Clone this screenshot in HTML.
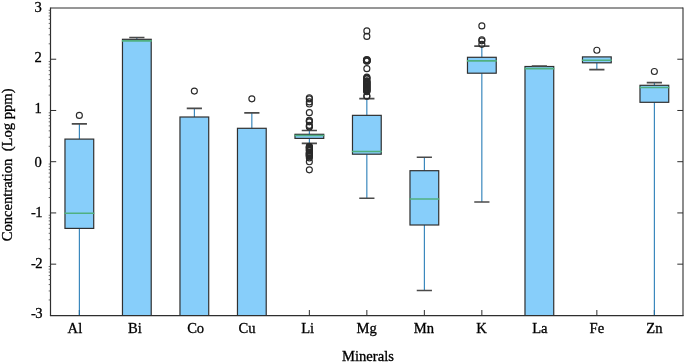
<!DOCTYPE html>
<html><head><meta charset="utf-8"><title>Boxplot</title>
<style>
html,body{margin:0;padding:0;background:#fff;}
body{width:685px;height:363px;overflow:hidden;}
svg{display:block;will-change:transform;}
svg text{font-family:"Liberation Serif",serif;fill:#000;stroke:#000;stroke-width:0.3px;}
</style></head><body>
<svg width="685" height="363" viewBox="0 0 685 363">
<rect width="685" height="363" fill="#fff"/>
<defs><clipPath id="c"><rect x="50.5" y="8.0" width="632.5" height="307.4"/></clipPath></defs>
<line x1="79.35" x2="79.35" y1="315.4" y2="310.0" stroke="#2e2e2e" stroke-width="1"/>
<line x1="136.85" x2="136.85" y1="315.4" y2="310.0" stroke="#2e2e2e" stroke-width="1"/>
<line x1="194.35" x2="194.35" y1="315.4" y2="310.0" stroke="#2e2e2e" stroke-width="1"/>
<line x1="251.85" x2="251.85" y1="315.4" y2="310.0" stroke="#2e2e2e" stroke-width="1"/>
<line x1="309.35" x2="309.35" y1="315.4" y2="310.0" stroke="#2e2e2e" stroke-width="1"/>
<line x1="366.85" x2="366.85" y1="315.4" y2="310.0" stroke="#2e2e2e" stroke-width="1"/>
<line x1="424.35" x2="424.35" y1="315.4" y2="310.0" stroke="#2e2e2e" stroke-width="1"/>
<line x1="481.85" x2="481.85" y1="315.4" y2="310.0" stroke="#2e2e2e" stroke-width="1"/>
<line x1="539.35" x2="539.35" y1="315.4" y2="310.0" stroke="#2e2e2e" stroke-width="1"/>
<line x1="596.85" x2="596.85" y1="315.4" y2="310.0" stroke="#2e2e2e" stroke-width="1"/>
<line x1="654.35" x2="654.35" y1="315.4" y2="310.0" stroke="#2e2e2e" stroke-width="1"/>
<g clip-path="url(#c)">
<line x1="79.35" x2="79.35" y1="123.85" y2="139.1" stroke="#1f77b4" stroke-width="1.05"/>
<line x1="79.35" x2="79.35" y1="228.4" y2="330" stroke="#1f77b4" stroke-width="1.05"/>
<rect x="64.97" y="139.1" width="28.75" height="89.30" fill="#87CEFA" stroke="#303030" stroke-width="1.2"/>
<line x1="64.38" x2="94.32" y1="213.2" y2="213.2" stroke="#50b080" stroke-width="1.6"/>
<line x1="71.75" x2="86.95" y1="123.85" y2="123.85" stroke="#4a4a4a" stroke-width="1.6"/>
<circle cx="79.35" cy="115.4" r="3.0" fill="none" stroke="#2a2a2a" stroke-width="1.15"/>
<line x1="136.85" x2="136.85" y1="37.5" y2="39.3" stroke="#1f77b4" stroke-width="1.05"/>
<rect x="122.47" y="39.3" width="28.75" height="290.70" fill="#87CEFA" stroke="#303030" stroke-width="1.2"/>
<line x1="121.88" x2="151.82" y1="40.9" y2="40.9" stroke="#50b080" stroke-width="1.6"/>
<line x1="129.25" x2="144.45" y1="37.5" y2="37.5" stroke="#4a4a4a" stroke-width="1.6"/>
<line x1="194.35" x2="194.35" y1="108.4" y2="117.0" stroke="#1f77b4" stroke-width="1.05"/>
<rect x="179.97" y="117.0" width="28.75" height="213.00" fill="#87CEFA" stroke="#303030" stroke-width="1.2"/>
<line x1="186.75" x2="201.95" y1="108.4" y2="108.4" stroke="#4a4a4a" stroke-width="1.6"/>
<circle cx="194.35" cy="91.1" r="3.0" fill="none" stroke="#2a2a2a" stroke-width="1.15"/>
<line x1="251.85" x2="251.85" y1="112.9" y2="128.3" stroke="#1f77b4" stroke-width="1.05"/>
<rect x="237.47" y="128.3" width="28.75" height="201.70" fill="#87CEFA" stroke="#303030" stroke-width="1.2"/>
<line x1="244.25" x2="259.45" y1="112.9" y2="112.9" stroke="#4a4a4a" stroke-width="1.6"/>
<circle cx="251.85" cy="98.8" r="3.0" fill="none" stroke="#2a2a2a" stroke-width="1.15"/>
<line x1="309.35" x2="309.35" y1="130.5" y2="134.3" stroke="#1f77b4" stroke-width="1.05"/>
<line x1="309.35" x2="309.35" y1="138.4" y2="143.4" stroke="#1f77b4" stroke-width="1.05"/>
<rect x="294.98" y="134.3" width="28.75" height="4.10" fill="#87CEFA" stroke="#303030" stroke-width="1.2"/>
<line x1="294.38" x2="324.33" y1="135.5" y2="135.5" stroke="#50b080" stroke-width="1.6"/>
<line x1="301.75" x2="316.95" y1="130.5" y2="130.5" stroke="#4a4a4a" stroke-width="1.6"/>
<line x1="301.75" x2="316.95" y1="143.4" y2="143.4" stroke="#4a4a4a" stroke-width="1.6"/>
<circle cx="309.35" cy="97.7" r="3.0" fill="none" stroke="#2a2a2a" stroke-width="1.15"/>
<circle cx="309.35" cy="98.9" r="3.0" fill="none" stroke="#2a2a2a" stroke-width="1.15"/>
<circle cx="309.35" cy="101.9" r="3.0" fill="none" stroke="#2a2a2a" stroke-width="1.15"/>
<circle cx="309.35" cy="104.0" r="3.0" fill="none" stroke="#2a2a2a" stroke-width="1.15"/>
<circle cx="309.35" cy="112.66" r="3.0" fill="none" stroke="#2a2a2a" stroke-width="1.15"/>
<circle cx="309.35" cy="120.2" r="3.0" fill="none" stroke="#2a2a2a" stroke-width="1.15"/>
<circle cx="309.35" cy="121.0" r="3.0" fill="none" stroke="#2a2a2a" stroke-width="1.15"/>
<circle cx="309.35" cy="121.8" r="3.0" fill="none" stroke="#2a2a2a" stroke-width="1.15"/>
<circle cx="309.35" cy="125.4" r="3.0" fill="none" stroke="#2a2a2a" stroke-width="1.15"/>
<circle cx="309.35" cy="126.2" r="3.0" fill="none" stroke="#2a2a2a" stroke-width="1.15"/>
<circle cx="309.35" cy="127.0" r="3.0" fill="none" stroke="#2a2a2a" stroke-width="1.15"/>
<circle cx="309.35" cy="146.4" r="3.0" fill="none" stroke="#2a2a2a" stroke-width="1.15"/>
<circle cx="309.35" cy="146.9" r="3.0" fill="none" stroke="#2a2a2a" stroke-width="1.15"/>
<circle cx="309.35" cy="147.4" r="3.0" fill="none" stroke="#2a2a2a" stroke-width="1.15"/>
<circle cx="309.35" cy="147.9" r="3.0" fill="none" stroke="#2a2a2a" stroke-width="1.15"/>
<circle cx="309.35" cy="148.4" r="3.0" fill="none" stroke="#2a2a2a" stroke-width="1.15"/>
<circle cx="309.35" cy="149.4" r="3.0" fill="none" stroke="#2a2a2a" stroke-width="1.15"/>
<circle cx="309.35" cy="150.2" r="3.0" fill="none" stroke="#2a2a2a" stroke-width="1.15"/>
<circle cx="309.35" cy="150.6" r="3.0" fill="none" stroke="#2a2a2a" stroke-width="1.15"/>
<circle cx="309.35" cy="152.4" r="3.0" fill="none" stroke="#2a2a2a" stroke-width="1.15"/>
<circle cx="309.35" cy="152.9" r="3.0" fill="none" stroke="#2a2a2a" stroke-width="1.15"/>
<circle cx="309.35" cy="153.4" r="3.0" fill="none" stroke="#2a2a2a" stroke-width="1.15"/>
<circle cx="309.35" cy="153.9" r="3.0" fill="none" stroke="#2a2a2a" stroke-width="1.15"/>
<circle cx="309.35" cy="154.4" r="3.0" fill="none" stroke="#2a2a2a" stroke-width="1.15"/>
<circle cx="309.35" cy="154.9" r="3.0" fill="none" stroke="#2a2a2a" stroke-width="1.15"/>
<circle cx="309.35" cy="155.4" r="3.0" fill="none" stroke="#2a2a2a" stroke-width="1.15"/>
<circle cx="309.35" cy="155.9" r="3.0" fill="none" stroke="#2a2a2a" stroke-width="1.15"/>
<circle cx="309.35" cy="156.4" r="3.0" fill="none" stroke="#2a2a2a" stroke-width="1.15"/>
<circle cx="309.35" cy="157.9" r="3.0" fill="none" stroke="#2a2a2a" stroke-width="1.15"/>
<circle cx="309.35" cy="161.7" r="3.0" fill="none" stroke="#2a2a2a" stroke-width="1.15"/>
<circle cx="309.35" cy="169.8" r="3.0" fill="none" stroke="#2a2a2a" stroke-width="1.15"/>
<line x1="366.85" x2="366.85" y1="98.6" y2="115.35" stroke="#1f77b4" stroke-width="1.05"/>
<line x1="366.85" x2="366.85" y1="154.2" y2="198.3" stroke="#1f77b4" stroke-width="1.05"/>
<rect x="352.48" y="115.35" width="28.75" height="38.85" fill="#87CEFA" stroke="#303030" stroke-width="1.2"/>
<line x1="351.88" x2="381.83" y1="151.5" y2="151.5" stroke="#50b080" stroke-width="1.6"/>
<line x1="359.25" x2="374.45" y1="98.6" y2="98.6" stroke="#4a4a4a" stroke-width="1.6"/>
<line x1="359.25" x2="374.45" y1="198.3" y2="198.3" stroke="#4a4a4a" stroke-width="1.6"/>
<circle cx="366.85" cy="30.9" r="3.0" fill="none" stroke="#2a2a2a" stroke-width="1.15"/>
<circle cx="366.85" cy="36.4" r="3.0" fill="none" stroke="#2a2a2a" stroke-width="1.15"/>
<circle cx="366.85" cy="59.95" r="3.0" fill="none" stroke="#2a2a2a" stroke-width="1.9"/>
<circle cx="366.85" cy="60.4" r="3.0" fill="none" stroke="#2a2a2a" stroke-width="1.9"/>
<circle cx="366.85" cy="60.85" r="3.0" fill="none" stroke="#2a2a2a" stroke-width="1.9"/>
<circle cx="366.85" cy="68.67" r="3.0" fill="none" stroke="#2a2a2a" stroke-width="1.15"/>
<circle cx="366.85" cy="77.1" r="3.0" fill="none" stroke="#2a2a2a" stroke-width="1.15"/>
<circle cx="366.85" cy="77.7" r="3.0" fill="none" stroke="#2a2a2a" stroke-width="1.15"/>
<circle cx="366.85" cy="78.3" r="3.0" fill="none" stroke="#2a2a2a" stroke-width="1.15"/>
<circle cx="366.85" cy="78.9" r="3.0" fill="none" stroke="#2a2a2a" stroke-width="1.15"/>
<circle cx="366.85" cy="80.7" r="3.0" fill="none" stroke="#2a2a2a" stroke-width="1.15"/>
<circle cx="366.85" cy="81.2" r="3.0" fill="none" stroke="#2a2a2a" stroke-width="1.15"/>
<circle cx="366.85" cy="81.7" r="3.0" fill="none" stroke="#2a2a2a" stroke-width="1.15"/>
<circle cx="366.85" cy="82.2" r="3.0" fill="none" stroke="#2a2a2a" stroke-width="1.15"/>
<circle cx="366.85" cy="82.7" r="3.0" fill="none" stroke="#2a2a2a" stroke-width="1.15"/>
<circle cx="366.85" cy="83.2" r="3.0" fill="none" stroke="#2a2a2a" stroke-width="1.15"/>
<circle cx="366.85" cy="83.7" r="3.0" fill="none" stroke="#2a2a2a" stroke-width="1.15"/>
<circle cx="366.85" cy="84.2" r="3.0" fill="none" stroke="#2a2a2a" stroke-width="1.15"/>
<circle cx="366.85" cy="84.7" r="3.0" fill="none" stroke="#2a2a2a" stroke-width="1.15"/>
<circle cx="366.85" cy="85.2" r="3.0" fill="none" stroke="#2a2a2a" stroke-width="1.15"/>
<circle cx="366.85" cy="85.7" r="3.0" fill="none" stroke="#2a2a2a" stroke-width="1.15"/>
<circle cx="366.85" cy="86.2" r="3.0" fill="none" stroke="#2a2a2a" stroke-width="1.15"/>
<circle cx="366.85" cy="86.7" r="3.0" fill="none" stroke="#2a2a2a" stroke-width="1.15"/>
<circle cx="366.85" cy="87.2" r="3.0" fill="none" stroke="#2a2a2a" stroke-width="1.15"/>
<circle cx="366.85" cy="87.7" r="3.0" fill="none" stroke="#2a2a2a" stroke-width="1.15"/>
<circle cx="366.85" cy="88.2" r="3.0" fill="none" stroke="#2a2a2a" stroke-width="1.15"/>
<circle cx="366.85" cy="88.7" r="3.0" fill="none" stroke="#2a2a2a" stroke-width="1.15"/>
<circle cx="366.85" cy="89.2" r="3.0" fill="none" stroke="#2a2a2a" stroke-width="1.15"/>
<circle cx="366.85" cy="89.7" r="3.0" fill="none" stroke="#2a2a2a" stroke-width="1.15"/>
<circle cx="366.85" cy="90.2" r="3.0" fill="none" stroke="#2a2a2a" stroke-width="1.15"/>
<circle cx="366.85" cy="90.7" r="3.0" fill="none" stroke="#2a2a2a" stroke-width="1.15"/>
<circle cx="366.85" cy="91.2" r="3.0" fill="none" stroke="#2a2a2a" stroke-width="1.15"/>
<circle cx="366.85" cy="91.7" r="3.0" fill="none" stroke="#2a2a2a" stroke-width="1.15"/>
<circle cx="366.85" cy="96.0" r="3.0" fill="none" stroke="#2a2a2a" stroke-width="1.15"/>
<circle cx="366.85" cy="96.2" r="3.0" fill="none" stroke="#2a2a2a" stroke-width="1.15"/>
<line x1="424.35" x2="424.35" y1="157.3" y2="170.7" stroke="#1f77b4" stroke-width="1.05"/>
<line x1="424.35" x2="424.35" y1="225.0" y2="290.5" stroke="#1f77b4" stroke-width="1.05"/>
<rect x="409.98" y="170.7" width="28.75" height="54.30" fill="#87CEFA" stroke="#303030" stroke-width="1.2"/>
<line x1="409.38" x2="439.33" y1="199.0" y2="199.0" stroke="#50b080" stroke-width="1.6"/>
<line x1="416.75" x2="431.95" y1="157.3" y2="157.3" stroke="#4a4a4a" stroke-width="1.6"/>
<line x1="416.75" x2="431.95" y1="290.5" y2="290.5" stroke="#4a4a4a" stroke-width="1.6"/>
<line x1="481.85" x2="481.85" y1="46.1" y2="57.3" stroke="#1f77b4" stroke-width="1.05"/>
<line x1="481.85" x2="481.85" y1="73.2" y2="202.0" stroke="#1f77b4" stroke-width="1.05"/>
<rect x="467.48" y="57.3" width="28.75" height="15.90" fill="#87CEFA" stroke="#303030" stroke-width="1.2"/>
<line x1="466.88" x2="496.83" y1="60.9" y2="60.9" stroke="#50b080" stroke-width="1.6"/>
<line x1="474.25" x2="489.45" y1="46.1" y2="46.1" stroke="#4a4a4a" stroke-width="1.6"/>
<line x1="474.25" x2="489.45" y1="202.0" y2="202.0" stroke="#4a4a4a" stroke-width="1.6"/>
<circle cx="481.85" cy="25.94" r="3.0" fill="none" stroke="#2a2a2a" stroke-width="1.15"/>
<circle cx="481.85" cy="39.7" r="3.0" fill="none" stroke="#2a2a2a" stroke-width="1.15"/>
<circle cx="481.85" cy="40.8" r="3.0" fill="none" stroke="#2a2a2a" stroke-width="1.15"/>
<circle cx="481.85" cy="44.3" r="3.0" fill="none" stroke="#2a2a2a" stroke-width="1.15"/>
<line x1="539.35" x2="539.35" y1="65.95" y2="66.5" stroke="#1f77b4" stroke-width="1.05"/>
<rect x="524.98" y="66.5" width="28.75" height="263.50" fill="#87CEFA" stroke="#303030" stroke-width="1.2"/>
<line x1="524.38" x2="554.33" y1="68.6" y2="68.6" stroke="#50b080" stroke-width="1.6"/>
<line x1="531.75" x2="546.95" y1="65.95" y2="65.95" stroke="#4a4a4a" stroke-width="1.6"/>
<line x1="596.85" x2="596.85" y1="62.8" y2="69.6" stroke="#1f77b4" stroke-width="1.05"/>
<rect x="582.48" y="56.9" width="28.75" height="5.90" fill="#87CEFA" stroke="#303030" stroke-width="1.2"/>
<line x1="581.88" x2="611.83" y1="60.3" y2="60.3" stroke="#50b080" stroke-width="1.6"/>
<line x1="589.25" x2="604.45" y1="69.6" y2="69.6" stroke="#4a4a4a" stroke-width="1.6"/>
<circle cx="596.85" cy="50.25" r="3.0" fill="none" stroke="#2a2a2a" stroke-width="1.15"/>
<line x1="654.35" x2="654.35" y1="82.6" y2="85.3" stroke="#1f77b4" stroke-width="1.05"/>
<line x1="654.35" x2="654.35" y1="102.3" y2="330" stroke="#1f77b4" stroke-width="1.05"/>
<rect x="639.98" y="85.3" width="28.75" height="17.00" fill="#87CEFA" stroke="#303030" stroke-width="1.2"/>
<line x1="639.38" x2="669.33" y1="87.5" y2="87.5" stroke="#50b080" stroke-width="1.6"/>
<line x1="646.75" x2="661.95" y1="82.6" y2="82.6" stroke="#4a4a4a" stroke-width="1.6"/>
<circle cx="654.35" cy="71.5" r="3.0" fill="none" stroke="#2a2a2a" stroke-width="1.15"/>
</g>
<line x1="50.5" x2="683.0" y1="8.0" y2="8.0" stroke="#2e2e2e" stroke-width="1"/>
<line x1="683.0" x2="683.0" y1="7.5" y2="316.0" stroke="#2e2e2e" stroke-width="1.1"/>
<line x1="49.9" x2="683.5" y1="315.59999999999997" y2="315.59999999999997" stroke="#2e2e2e" stroke-width="1.2"/>
<line x1="50.5" x2="50.5" y1="7.5" y2="315.4" stroke="#2e2e2e" stroke-width="1.2"/>
<text x="41.8" y="318" text-anchor="end" font-size="14.6"><tspan dx="0.7">-</tspan><tspan dx="-0.7">3</tspan></text>
<line x1="48.7" x2="50.5" y1="299.98" y2="299.98" stroke="#444" stroke-width="0.8"/>
<line x1="48.7" x2="50.5" y1="290.96" y2="290.96" stroke="#444" stroke-width="0.8"/>
<line x1="48.7" x2="50.5" y1="284.55" y2="284.55" stroke="#444" stroke-width="0.8"/>
<line x1="48.7" x2="50.5" y1="279.59" y2="279.59" stroke="#444" stroke-width="0.8"/>
<line x1="48.7" x2="50.5" y1="275.53" y2="275.53" stroke="#444" stroke-width="0.8"/>
<line x1="48.7" x2="50.5" y1="272.10" y2="272.10" stroke="#444" stroke-width="0.8"/>
<line x1="48.7" x2="50.5" y1="269.13" y2="269.13" stroke="#444" stroke-width="0.8"/>
<line x1="48.7" x2="50.5" y1="266.51" y2="266.51" stroke="#444" stroke-width="0.8"/>
<line x1="50.5" x2="56.2" y1="264.17" y2="264.17" stroke="#2e2e2e" stroke-width="1"/>
<line x1="683.0" x2="677.3" y1="264.17" y2="264.17" stroke="#2e2e2e" stroke-width="1"/>
<text x="41.8" y="268" text-anchor="end" font-size="14.6"><tspan dx="0.7">-</tspan><tspan dx="-0.7">2</tspan></text>
<line x1="48.7" x2="50.5" y1="248.74" y2="248.74" stroke="#444" stroke-width="0.8"/>
<line x1="48.7" x2="50.5" y1="239.72" y2="239.72" stroke="#444" stroke-width="0.8"/>
<line x1="48.7" x2="50.5" y1="233.32" y2="233.32" stroke="#444" stroke-width="0.8"/>
<line x1="48.7" x2="50.5" y1="228.36" y2="228.36" stroke="#444" stroke-width="0.8"/>
<line x1="48.7" x2="50.5" y1="224.30" y2="224.30" stroke="#444" stroke-width="0.8"/>
<line x1="48.7" x2="50.5" y1="220.87" y2="220.87" stroke="#444" stroke-width="0.8"/>
<line x1="48.7" x2="50.5" y1="217.90" y2="217.90" stroke="#444" stroke-width="0.8"/>
<line x1="48.7" x2="50.5" y1="215.28" y2="215.28" stroke="#444" stroke-width="0.8"/>
<line x1="50.5" x2="56.2" y1="212.93" y2="212.93" stroke="#2e2e2e" stroke-width="1"/>
<line x1="683.0" x2="677.3" y1="212.93" y2="212.93" stroke="#2e2e2e" stroke-width="1"/>
<text x="41.8" y="217" text-anchor="end" font-size="14.6"><tspan dx="0.7">-</tspan><tspan dx="-0.7">1</tspan></text>
<line x1="48.7" x2="50.5" y1="197.51" y2="197.51" stroke="#444" stroke-width="0.8"/>
<line x1="48.7" x2="50.5" y1="188.49" y2="188.49" stroke="#444" stroke-width="0.8"/>
<line x1="48.7" x2="50.5" y1="182.09" y2="182.09" stroke="#444" stroke-width="0.8"/>
<line x1="48.7" x2="50.5" y1="177.12" y2="177.12" stroke="#444" stroke-width="0.8"/>
<line x1="48.7" x2="50.5" y1="173.07" y2="173.07" stroke="#444" stroke-width="0.8"/>
<line x1="48.7" x2="50.5" y1="169.64" y2="169.64" stroke="#444" stroke-width="0.8"/>
<line x1="48.7" x2="50.5" y1="166.67" y2="166.67" stroke="#444" stroke-width="0.8"/>
<line x1="48.7" x2="50.5" y1="164.04" y2="164.04" stroke="#444" stroke-width="0.8"/>
<line x1="50.5" x2="56.2" y1="161.70" y2="161.70" stroke="#2e2e2e" stroke-width="1"/>
<line x1="683.0" x2="677.3" y1="161.70" y2="161.70" stroke="#2e2e2e" stroke-width="1"/>
<text x="41.8" y="167" text-anchor="end" font-size="14.6">0</text>
<line x1="48.7" x2="50.5" y1="146.28" y2="146.28" stroke="#444" stroke-width="0.8"/>
<line x1="48.7" x2="50.5" y1="137.26" y2="137.26" stroke="#444" stroke-width="0.8"/>
<line x1="48.7" x2="50.5" y1="130.85" y2="130.85" stroke="#444" stroke-width="0.8"/>
<line x1="48.7" x2="50.5" y1="125.89" y2="125.89" stroke="#444" stroke-width="0.8"/>
<line x1="48.7" x2="50.5" y1="121.83" y2="121.83" stroke="#444" stroke-width="0.8"/>
<line x1="48.7" x2="50.5" y1="118.40" y2="118.40" stroke="#444" stroke-width="0.8"/>
<line x1="48.7" x2="50.5" y1="115.43" y2="115.43" stroke="#444" stroke-width="0.8"/>
<line x1="48.7" x2="50.5" y1="112.81" y2="112.81" stroke="#444" stroke-width="0.8"/>
<line x1="50.5" x2="56.2" y1="110.47" y2="110.47" stroke="#2e2e2e" stroke-width="1"/>
<line x1="683.0" x2="677.3" y1="110.47" y2="110.47" stroke="#2e2e2e" stroke-width="1"/>
<text x="41.8" y="113" text-anchor="end" font-size="14.6">1</text>
<line x1="48.7" x2="50.5" y1="95.04" y2="95.04" stroke="#444" stroke-width="0.8"/>
<line x1="48.7" x2="50.5" y1="86.02" y2="86.02" stroke="#444" stroke-width="0.8"/>
<line x1="48.7" x2="50.5" y1="79.62" y2="79.62" stroke="#444" stroke-width="0.8"/>
<line x1="48.7" x2="50.5" y1="74.66" y2="74.66" stroke="#444" stroke-width="0.8"/>
<line x1="48.7" x2="50.5" y1="70.60" y2="70.60" stroke="#444" stroke-width="0.8"/>
<line x1="48.7" x2="50.5" y1="67.17" y2="67.17" stroke="#444" stroke-width="0.8"/>
<line x1="48.7" x2="50.5" y1="64.20" y2="64.20" stroke="#444" stroke-width="0.8"/>
<line x1="48.7" x2="50.5" y1="61.58" y2="61.58" stroke="#444" stroke-width="0.8"/>
<line x1="50.5" x2="56.2" y1="59.23" y2="59.23" stroke="#2e2e2e" stroke-width="1"/>
<line x1="683.0" x2="677.3" y1="59.23" y2="59.23" stroke="#2e2e2e" stroke-width="1"/>
<text x="41.8" y="62" text-anchor="end" font-size="14.6">2</text>
<line x1="48.7" x2="50.5" y1="43.81" y2="43.81" stroke="#444" stroke-width="0.8"/>
<line x1="48.7" x2="50.5" y1="34.79" y2="34.79" stroke="#444" stroke-width="0.8"/>
<line x1="48.7" x2="50.5" y1="28.39" y2="28.39" stroke="#444" stroke-width="0.8"/>
<line x1="48.7" x2="50.5" y1="23.42" y2="23.42" stroke="#444" stroke-width="0.8"/>
<line x1="48.7" x2="50.5" y1="19.37" y2="19.37" stroke="#444" stroke-width="0.8"/>
<line x1="48.7" x2="50.5" y1="15.94" y2="15.94" stroke="#444" stroke-width="0.8"/>
<line x1="48.7" x2="50.5" y1="12.97" y2="12.97" stroke="#444" stroke-width="0.8"/>
<line x1="48.7" x2="50.5" y1="10.34" y2="10.34" stroke="#444" stroke-width="0.8"/>
<text x="41.8" y="12" text-anchor="end" font-size="14.6">3</text>
<text x="74.90" y="333" text-anchor="middle" font-size="14.6">Al</text>
<text x="134.85" y="333" text-anchor="middle" font-size="14.6">Bi</text>
<text x="195.65" y="333" text-anchor="middle" font-size="14.6">Co</text>
<text x="246.95" y="333" text-anchor="middle" font-size="14.6">Cu</text>
<text x="307.65" y="333" text-anchor="middle" font-size="14.6">Li</text>
<text x="366.55" y="333" text-anchor="middle" font-size="14.6">Mg</text>
<text x="423.90" y="333" text-anchor="middle" font-size="14.6">Mn</text>
<text x="481.40" y="333" text-anchor="middle" font-size="14.6">K</text>
<text x="539.85" y="333" text-anchor="middle" font-size="14.6">La</text>
<text x="596.85" y="333" text-anchor="middle" font-size="14.6">Fe</text>
<text x="654.35" y="333" text-anchor="middle" font-size="14.6">Zn</text>
<text x="368" y="360.8" text-anchor="middle" font-size="14.6">Minerals</text>
<text transform="translate(12.2,164.9) rotate(-90)" text-anchor="middle" font-size="14.6" xml:space="preserve">Concentration  (Log ppm)</text>
</svg>
</body></html>
